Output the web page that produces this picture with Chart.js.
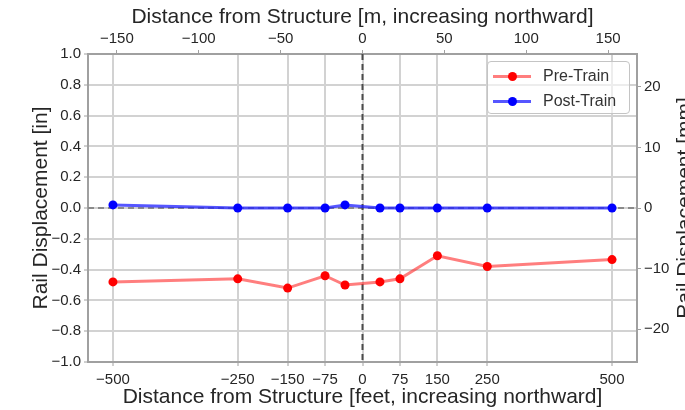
<!DOCTYPE html>
<html>
<head>
<meta charset="utf-8">
<title>Rail Displacement</title>
<script src="https://cdn.jsdelivr.net/npm/chart.js@4.4.1/dist/chart.umd.min.js"></script>
<style>
    html, body { margin: 0; padding: 0; background: #fff; }
    #wrap { position: relative; width: 685px; height: 410px; }
    #legend {
        position: absolute; left: 487px; top: 61px; width: 143px; height: 53px;
        box-sizing: border-box; border: 1px solid #c4c4c4; border-radius: 4px;
        background: rgba(255, 255, 255, 0.6);
        font: 16px 'Liberation Sans', Arial, sans-serif; color: #333;
    }
    .legend-item { position: absolute; left: 0; height: 20px; display: flex; align-items: center; white-space: nowrap; }
    .swatch { position: relative; width: 38px; height: 20px; margin-left: 5px; margin-right: 12px; }
    .swatch .ln { position: absolute; left: 0; right: 0; top: 9px; height: 3px; }
    .swatch .dot { position: absolute; left: 15px; top: 6px; width: 9px; height: 9px; border-radius: 50%; }
</style>
</head>
<body>
<div id="wrap">
    <canvas id="railChart" width="685" height="410"></canvas>
    <div id="legend"></div>
</div>
<script>
// Survey stations along the track, feet from the structure
const distanceFeet = [-500, -250, -150, -75, -35, 35, 75, 150, 250, 500];

// Rail displacement in inches
const preTrain = [-0.48, -0.46, -0.52, -0.44, -0.50, -0.48, -0.46, -0.31, -0.38, -0.335];
const postTrain = [0.02, 0, 0, 0, 0.02, 0, 0, 0, 0, 0];

// Tick positions
const feetTicks = [-500, -250, -150, -75, 0, 75, 150, 250, 500];
const meterTicks = [-150, -100, -50, 0, 50, 100, 150];
const inchTicks = [-1.0, -0.8, -0.6, -0.4, -0.2, 0.0, 0.2, 0.4, 0.6, 0.8, 1.0];
const mmTicks = [-20, -10, 0, 10, 20];

const FT_TO_M = 0.3048;
const IN_TO_MM = 25.4;
const X_LIMIT = 550;   // feet
const Y_LIMIT = 1.0;   // inches

const FONT = "'Liberation Sans', Arial, sans-serif";
const TEXT_COLOR = '#262626';
const GRID_COLOR = '#d2d2d2';
const FRAME_COLOR = '#a0a0a0';

const tickFont = { family: FONT, size: 15 };
const titleFont = { family: FONT, size: 21 };

function minus(str) {
    return str.replace('-', '\u2212');
}

function setTicks(values) {
    return function(scale) {
        scale.ticks = values.map(v => ({ value: v }));
    };
}

// Dashed reference lines through zero on both axes
const zeroLines = {
    id: 'zeroLines',
    beforeDatasetsDraw(chart) {
        const { ctx, chartArea: area, scales } = chart;
        const x0 = scales.x.getPixelForValue(0);
        const y0 = scales.y.getPixelForValue(0);
        ctx.save();
        ctx.lineWidth = 2;
        ctx.setLineDash([6, 4]);
        ctx.strokeStyle = '#8a8a8a';
        ctx.beginPath();
        ctx.moveTo(area.left, y0);
        ctx.lineTo(area.right, y0);
        ctx.stroke();
        ctx.strokeStyle = '#4a4a4a';
        ctx.beginPath();
        ctx.moveTo(x0, area.top);
        ctx.lineTo(x0, area.bottom);
        ctx.stroke();
        ctx.restore();
    }
};

// Right-hand axis label, reading bottom to top like the left one
const rightTitle = {
    id: 'rightTitle',
    afterDraw(chart) {
        const { ctx, chartArea: area } = chart;
        ctx.save();
        ctx.translate(675, (area.top + area.bottom) / 2);
        ctx.rotate(-Math.PI / 2);
        ctx.font = `${titleFont.size}px ${FONT}`;
        ctx.fillStyle = TEXT_COLOR;
        ctx.textAlign = 'center';
        ctx.textBaseline = 'top';
        ctx.fillText('Rail Displacement [mm]', 0, 0);
        ctx.restore();
    }
};

const ctx = document.getElementById('railChart').getContext('2d');
const railChart = new Chart(ctx, {
    type: 'line',
    data: {
        datasets: [
            {
                label: 'Pre-Train',
                data: distanceFeet.map((d, i) => ({ x: d, y: preTrain[i] })),
                borderColor: 'rgba(255, 40, 40, 0.6)',
                backgroundColor: '#ff0000',
                borderWidth: 3,
                pointRadius: 4.5,
                pointBorderWidth: 0,
                pointBackgroundColor: '#ff0000',
                tension: 0
            },
            {
                label: 'Post-Train',
                data: distanceFeet.map((d, i) => ({ x: d, y: postTrain[i] })),
                borderColor: 'rgba(30, 30, 255, 0.75)',
                backgroundColor: '#0000ff',
                borderWidth: 3,
                pointRadius: 4.5,
                pointBorderWidth: 0,
                pointBackgroundColor: '#0000ff',
                tension: 0
            }
        ]
    },
    options: {
        responsive: false,
        animation: false,
        layout: { padding: 0 },
        plugins: {
            legend: { display: false },
            tooltip: { enabled: false }
        },
        scales: {
            x: {
                type: 'linear',
                position: 'bottom',
                min: -X_LIMIT,
                max: X_LIMIT,
                afterBuildTicks: setTicks(feetTicks),
                afterFit: scale => { scale.height = 48; },
                grid: { color: GRID_COLOR, lineWidth: 2, tickLength: 4, tickColor: FRAME_COLOR, tickWidth: 1 },
                border: { color: FRAME_COLOR, width: 2 },
                ticks: {
                    font: tickFont, color: TEXT_COLOR, padding: 5,
                    autoSkip: false, maxRotation: 0,
                    callback: v => minus(String(v))
                },
                title: {
                    display: true,
                    text: 'Distance from Structure [feet, increasing northward]',
                    font: titleFont, color: TEXT_COLOR,
                    padding: { top: 0, bottom: 0 }
                }
            },
            x2: {
                type: 'linear',
                position: 'top',
                min: -X_LIMIT * FT_TO_M,
                max: X_LIMIT * FT_TO_M,
                afterBuildTicks: setTicks(meterTicks),
                afterFit: scale => { scale.height = 54; },
                grid: { drawOnChartArea: false, tickLength: 4, tickColor: FRAME_COLOR, tickWidth: 1 },
                border: { color: FRAME_COLOR, width: 2 },
                ticks: {
                    font: tickFont, color: TEXT_COLOR, padding: 2,
                    autoSkip: false, maxRotation: 0,
                    callback: v => minus(String(v))
                },
                title: {
                    display: true,
                    text: 'Distance from Structure [m, increasing northward]',
                    font: titleFont, color: TEXT_COLOR,
                    padding: { top: 5, bottom: 0 }
                }
            },
            y: {
                position: 'left',
                min: -Y_LIMIT,
                max: Y_LIMIT,
                afterBuildTicks: setTicks(inchTicks),
                afterFit: scale => { scale.width = 88; },
                grid: { color: GRID_COLOR, lineWidth: 2, tickLength: 4, tickColor: FRAME_COLOR, tickWidth: 1 },
                border: { color: FRAME_COLOR, width: 2 },
                ticks: {
                    font: tickFont, color: TEXT_COLOR, padding: 3,
                    callback: v => minus(v.toFixed(1))
                },
                title: {
                    display: true,
                    text: 'Rail Displacement [in]',
                    font: titleFont, color: TEXT_COLOR,
                    padding: { top: 29, bottom: 0 }
                }
            },
            y2: {
                position: 'right',
                min: -Y_LIMIT * IN_TO_MM,
                max: Y_LIMIT * IN_TO_MM,
                afterBuildTicks: setTicks(mmTicks),
                afterFit: scale => { scale.width = 48; },
                grid: { drawOnChartArea: false, tickLength: 4, tickColor: FRAME_COLOR, tickWidth: 1 },
                border: { color: FRAME_COLOR, width: 2 },
                ticks: {
                    font: tickFont, color: TEXT_COLOR, padding: 3,
                    callback: v => minus(String(v))
                }
            }
        }
    },
    plugins: [zeroLines, rightTitle]
});

// Legend entries built from the datasets
function buildLegend(chart) {
    const legend = document.getElementById('legend');
    const rowTops = [4, 29];
    chart.data.datasets.forEach((ds, i) => {
        const item = document.createElement('div');
        item.className = 'legend-item';
        item.style.top = rowTops[i] + 'px';

        const swatch = document.createElement('div');
        swatch.className = 'swatch';
        const line = document.createElement('div');
        line.className = 'ln';
        line.style.background = ds.borderColor;
        const dot = document.createElement('div');
        dot.className = 'dot';
        dot.style.background = ds.pointBackgroundColor;
        swatch.appendChild(line);
        swatch.appendChild(dot);

        const label = document.createElement('span');
        label.textContent = ds.label;

        item.appendChild(swatch);
        item.appendChild(label);
        legend.appendChild(item);
    });
}

buildLegend(railChart);
</script>
</body>
</html>
